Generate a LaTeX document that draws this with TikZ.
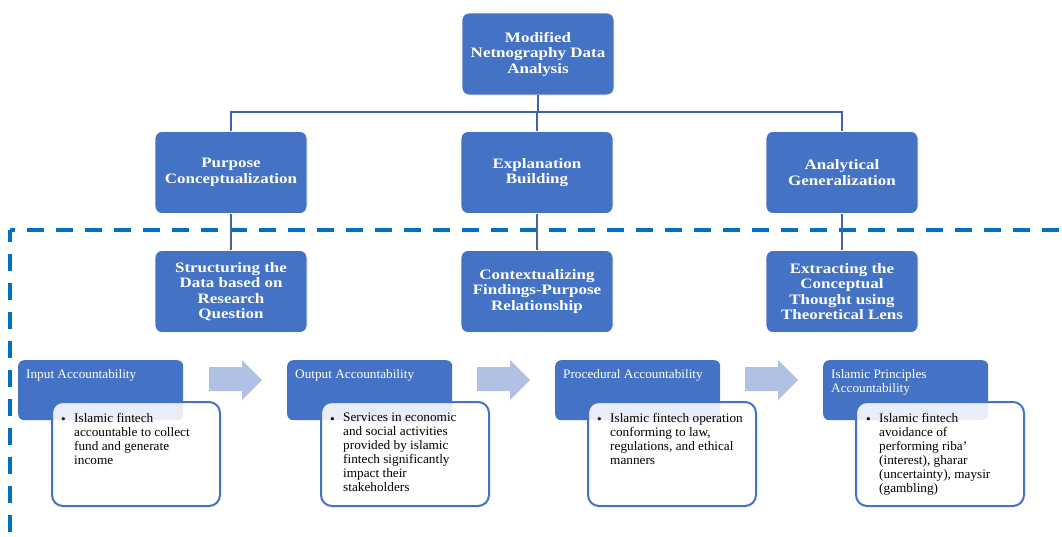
\documentclass[tikz,border=0pt]{standalone}
\usepackage{fontspec}
\setmainfont{Liberation Serif}
\newfontfamily\hdfont[FakeStretch=1.18]{Liberation Serif}
\newfontfamily\bdfont[FakeStretch=1.02]{Liberation Serif}
\definecolor{boxblue}{HTML}{4472C4}
\definecolor{connblue}{HTML}{3F62A8}
\definecolor{dashblue}{HTML}{0070C0}
\definecolor{arrowblue}{HTML}{B0C1E3}
\tikzset{
  bigbox/.style={rectangle, rounded corners=7pt, fill=boxblue, draw=white, line width=0.8pt,
    minimum width=152pt, minimum height=82pt, align=center, text=white, inner sep=2pt,
    font=\hdfont\bfseries\fontsize{14.4}{15.5}\selectfont},
  conn/.style={draw=connblue, line width=2.6pt},
  dashline/.style={draw=dashblue, line width=4pt, dash pattern=on 17pt off 12pt},
  hdrbox/.style={rectangle, rounded corners=6pt, fill=boxblue, minimum width=165pt,
    minimum height=60pt, anchor=north west, inner sep=0pt},
  whitebox/.style={rectangle, rounded corners=11pt, fill=white, fill opacity=0.88,
    draw=boxblue, draw opacity=1, line width=2pt, minimum width=168pt, minimum height=104pt,
    anchor=north west, inner sep=0pt},
  hdrtext/.style={anchor=north west, inner sep=0pt, text=white, align=left,
    font=\bdfont\fontsize{13}{14}\selectfont},
  bultext/.style={anchor=north west, inner sep=0pt, text=black, align=left,
    font=\bdfont\fontsize{13}{14}\selectfont},
  bulmark/.style={anchor=base west, inner sep=0pt, text=black,
    font=\bdfont\fontsize{13}{14}\selectfont},
  flowarrow/.style={fill=arrowblue}
}
\begin{document}
\begin{tikzpicture}[x=1pt,y=-1pt]
\useasboundingbox (0,0) rectangle (1062,536);
% dashed frame
\coordinate (dcorner) at (10,230);
\coordinate (dright) at (1062,230);
\coordinate (dbottom) at (10,536);
\draw[dashline, dash phase=12pt] (dcorner) -- (dright);
\draw[dashline, dash phase=5pt] (dcorner) -- (dbottom);

% top level
\node[bigbox] (top) at (538,54) {Modified\\Netnography Data\\Analysis};
\node[bigbox] (pc) at (231,172.5) {Purpose\\Conceptualization};
\node[bigbox] (eb) at (537,172.5) {Explanation\\Building};
\node[bigbox] (ag) at (842,172.5) {Analytical\\Generalization};
\node[bigbox] (sd) at (231,291.5) {Structuring the\\Data based on\\Research\\Question};
\node[bigbox] (cf) at (537,291.5) {Contextualizing\\Findings-Purpose\\Relationship};
\node[bigbox] (ec) at (842,291.5) {Extracting the\\Conceptual\\Thought using\\Theoretical Lens};

\coordinate (bus) at (538,112);
\draw[conn] (top.south) -- (top.south |- bus);
\draw[conn] (pc.north) -- (pc.north |- bus) -- (ag.north |- bus) -- (ag.north);
\draw[conn] (eb.north) -- (eb.north |- bus);
\draw[conn] (pc.south) -- (sd.north);
\draw[conn] (eb.south) -- (cf.north);
\draw[conn] (ag.south) -- (ec.north);

% bottom row headers
\node[hdrbox] (h1) at (18,360) {};
\node[hdrbox] (h2) at (287,360) {};
\node[hdrbox] (h3) at (555,360) {};
\node[hdrbox] (h4) at (823,360) {};
\node[hdrtext] (t1) at (26,369) {Input Accountability};
\node[hdrtext] (t2) at (295,369) {Output Accountability};
\node[hdrtext] (t3) at (563,369) {Procedural Accountability};
\node[hdrtext] (t4) at (831,369) {Islamic Principles\\Accountability};

% white boxes
\node[whitebox] (w1) at (51,401) {};
\node[whitebox] (w2) at (320,401) {};
\node[whitebox] (w3) at (587,401) {};
\node[whitebox] (w4) at (855,401) {};

\node[bultext] (bt1) at (74,413) {Islamic fintech\\accountable to collect\\fund and generate\\income};
\node[bulmark] (bb1) at (61,423) {•};
\node[bultext] (bt2) at (343,413) {Services in economic\\and social activities\\provided by islamic\\fintech significantly\\impact their\\stakeholders};
\node[bulmark] (bb2) at (330,423) {•};
\node[bultext] (bt3) at (610,413) {Islamic fintech operation\\conforming to law,\\regulations, and ethical\\manners};
\node[bulmark] (bb3) at (597,423) {•};
\node[bultext] (bt4) at (879,413) {Islamic fintech\\avoidance of\\performing riba’\\(interest), gharar\\(uncertainty), maysir\\(gambling)};
\node[bulmark] (bb4) at (866,423) {•};

% flow arrows
\foreach \x in {209,477,745} {
  \fill[flowarrow] (\x,367) -- (\x+33,367) -- (\x+33,360) -- (\x+53,380) -- (\x+33,400) -- (\x+33,391) -- (\x,391) -- cycle;
}
\end{tikzpicture}
\end{document}
